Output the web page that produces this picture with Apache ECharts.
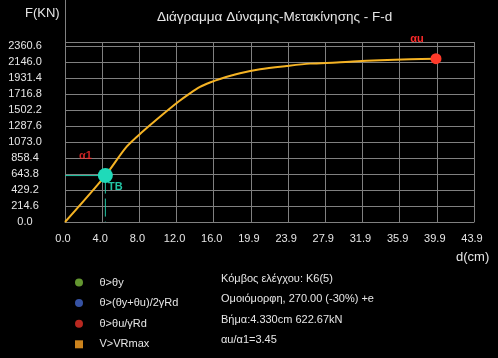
<!DOCTYPE html>
<html><head><meta charset="utf-8">
<script src="https://cdn.jsdelivr.net/npm/echarts@6/dist/echarts.min.js"></script>
<style>html,body{margin:0;padding:0;background:#000}#c{width:498px;height:358px}</style>
</head><body><div id="c"></div>
<script>
// ---- data ----
const displacement = [0, 4.33, 6.62, 8.40, 10.19, 12.16, 13.41, 14.49, 15.56, 16.63, 18.78, 20.93, 23.79, 26.29, 29.16, 30.91, 33.80, 37.02, 39.81];
const force        = [0, 622.67, 1010, 1220, 1412, 1613, 1726, 1812, 1871, 1918, 1994, 2048, 2092, 2124, 2139, 2152, 2169, 2181, 2190];
const yieldPoint = [4.33, 622.67];
const ultimatePoint = [39.81, 2190];
const xTickInterval = 3.99, xMax = 43.89;
const yTickInterval = 214.6, yMax = 2414;
const legendNames = ['θ>θy', 'θ>(θy+θu)/2γRd', 'θ>θu/γRd', 'V>VRmax'];
const infoLines = ['Κόμβος ελέγχου: K6(5)', 'Ομοιόμορφη, 270.00 (-30%) +e', 'Βήμα:4.330cm 622.67kN', 'αu/α1=3.45'];
const titleText = 'Διάγραμμα Δύναμης-Μετακίνησης - F-d';

// ---- chart ----
const FONT = 'Liberation Sans, Arial, sans-serif';
const legendColors = ['#7cbc3c', '#4466cc', '#e63228', '#ffa424'];
const legendIcons = ['circle', 'circle', 'circle', 'path://M0,0H10V10H0Z'];
const curve = displacement.map((d, i) => [d, force[i]]);
const GRID = '#808080';

const chart = echarts.init(document.getElementById('c'));
chart.setOption({
  backgroundColor: '#000',
  animation: false,
  title: [
    {text: titleText, left: 157, top: 10, padding: 0,
     textStyle: {color: '#e6e6e6', fontSize: 13.5, fontWeight: 'normal', fontFamily: FONT}},
    {text: 'F(KN)', left: 25, top: 7, padding: 0,
     textStyle: {color: '#e6e6e6', fontSize: 13, fontWeight: 'normal', fontFamily: FONT}},
    {text: 'd(cm)', left: 456, top: 251, padding: 0,
     textStyle: {color: '#e6e6e6', fontSize: 13, fontWeight: 'normal', fontFamily: FONT}},
    {text: infoLines.join('\n'), left: 221, top: 269, padding: 0,
     textStyle: {color: '#e6e6e6', fontSize: 11, fontWeight: 'normal', lineHeight: 20.3, fontFamily: FONT}}
  ],
  legend: {
    orient: 'vertical', left: 75, top: 277, padding: 0,
    itemWidth: 31, itemHeight: 8, itemGap: 9.6,
    selectedMode: false,
    textStyle: {color: '#e6e6e6', fontSize: 11, fontFamily: FONT},
    data: legendNames.map((n, i) => ({name: n, icon: legendIcons[i]}))
  },
  grid: {left: 65, right: 24, top: 42, bottom: 136},
  xAxis: {
    type: 'value', min: 0, max: xMax, interval: xTickInterval,
    axisLine: {show: true, onZero: false, lineStyle: {color: GRID, width: 1}},
    axisTick: {show: false},
    splitLine: {show: true, lineStyle: {color: GRID, width: 1}},
    axisLabel: {color: '#e6e6e6', fontSize: 11, margin: 11, padding: [0, 4, 0, 0],
      formatter: v => v.toFixed(1), fontFamily: FONT}
  },
  yAxis: {
    type: 'value', min: 0, max: yMax, interval: yTickInterval,
    axisLine: {show: true, onZero: false, lineStyle: {color: GRID, width: 1}},
    axisTick: {show: false},
    splitLine: {show: true, lineStyle: {color: GRID, width: 1}},
    axisLabel: {color: '#e6e6e6', fontSize: 11, margin: 40, align: 'center', showMaxLabel: false,
      padding: [0, 0, 6, 0], formatter: v => v.toFixed(1), fontFamily: FONT}
  },
  graphic: [
    {type: 'line', shape: {x1: 65.5, y1: 0, x2: 65.5, y2: 42}, style: {stroke: GRID, lineWidth: 1}, silent: true}
  ],
  series: [
    {type: 'line', name: 'F-d', data: curve, showSymbol: false, smooth: 0.3, z: 3,
     lineStyle: {color: '#f5b324', width: 2}},
    {type: 'line', name: 'guideH', data: [[0, yieldPoint[1]], yieldPoint], showSymbol: false, symbol: 'none', z: 2,
     lineStyle: {color: '#22c8a6', width: 1}},
    {type: 'line', name: 'guideV', data: [yieldPoint, [yieldPoint[0], 0]], showSymbol: false, symbol: 'none', z: 2,
     lineStyle: {color: '#22c8a6', width: 1, type: [18, 5]}},
    {type: 'scatter', name: 'TB', data: [yieldPoint], symbolSize: 15, z: 5,
     itemStyle: {color: '#1fdab9', opacity: 1},
     label: {show: true, position: 'inside', offset: [10, 11], formatter: 'TB',
       color: '#22c4a4', fontSize: 11, fontWeight: 'bold', fontFamily: FONT}},
    {type: 'scatter', name: 'a1label', data: [yieldPoint], symbolSize: 1, z: 5,
     itemStyle: {color: 'rgba(0,0,0,0)'},
     label: {show: true, position: 'inside', offset: [-20, -20], formatter: 'α1',
       color: '#ff2a2a', fontSize: 11, fontWeight: 'bold', fontFamily: FONT}},
    {type: 'scatter', name: 'au', data: [ultimatePoint], symbolSize: 11, z: 5,
     itemStyle: {color: '#ff3a2a', opacity: 1},
     label: {show: true, position: 'inside', offset: [-19, -20], formatter: 'αu',
       color: '#ff2a2a', fontSize: 11, fontWeight: 'bold', fontFamily: FONT}},
    ...legendNames.map((n, i) => ({type: 'scatter', name: n, data: [], itemStyle: {color: legendColors[i]}}))
  ]
});
</script>
</body></html>
